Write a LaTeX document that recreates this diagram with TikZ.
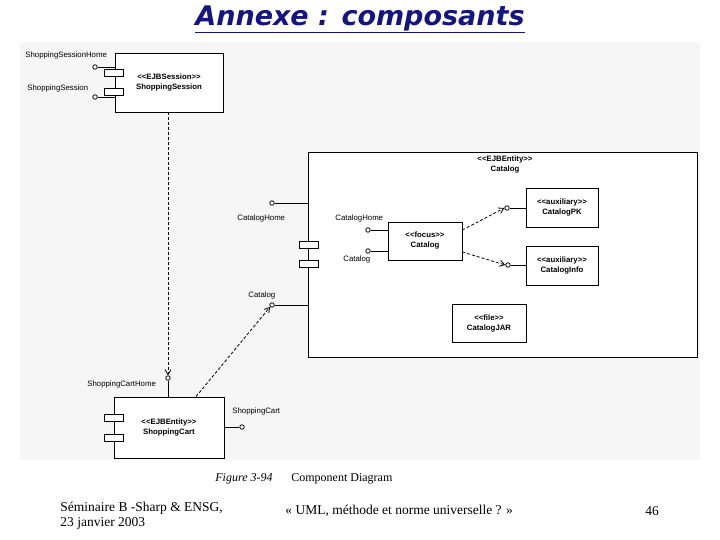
\documentclass[tikz,border=0pt]{standalone}
\usepackage{fontspec}
\setmainfont{Liberation Serif}
\setsansfont{Liberation Sans}
\newfontfamily\titlefont{DejaVu Sans}
\usetikzlibrary{arrows.meta,positioning}
\definecolor{titleblue}{RGB}{20,20,130}
\definecolor{canvas}{RGB}{246,246,246}
\newcommand{\stereo}[1]{<{}<#1>{}>}

\begin{document}
\begin{tikzpicture}[
  x=1pt, y=-1pt, line width=0.8pt,
  font=\sffamily\fontsize{7.8}{10}\selectfont,
  comp/.style={draw, fill=white, align=center, inner sep=0pt,
               font=\sffamily\bfseries\fontsize{7.8}{10}\selectfont},
  tab/.style={draw, fill=white, minimum width=19pt, minimum height=7pt, inner sep=0pt},
  lolli/.style={draw, circle, fill=white, minimum size=4.5pt, inner sep=0pt},
  iface/.style={inner sep=1pt},
  dep/.style={dash pattern=on 3pt off 2pt, -{Straight Barb[length=5pt,width=6pt]}},
  foot/.style={font=\rmfamily\fontsize{13.5}{15}\selectfont, align=left, inner sep=0pt}
]
\useasboundingbox (0,0) rectangle (720,540);
\fill[canvas] (20,42) rectangle (700,460);
\node[font=\titlefont\bfseries\itshape\fontsize{27}{30}\selectfont, text=titleblue]
  (title) at (360,19) {\underline{Annexe : composants}};

\node[comp, minimum width=108pt, minimum height=59pt] (sess) at (169,82.5)
  {\stereo{EJBSession}\\ShoppingSession};
\node[tab] (sessT1) at (113.5,72.5) {};
\node[tab] (sessT2) at (113.5,91.5) {};
\node[lolli] (sshI) at (95,67) {};
\node[lolli] (ssI) at (95,97) {};
\draw (sshI) -- (sshI -| sess.west);
\draw (ssI) -- (ssI -| sess.west);
\node[iface, anchor=west] (sshL) at (24,55) {ShoppingSessionHome};
\node[iface, anchor=west] (ssL) at (26,88) {ShoppingSession};

\node[comp, minimum width=110pt, minimum height=61pt] (cart) at (169,427.5)
  {\stereo{EJBEntity}\\ShoppingCart};
\node[tab] (cartT1) at (113.5,418) {};
\node[tab] (cartT2) at (113.5,438) {};
\node[lolli] (chI) at (168,378) {};
\node[lolli] (scI) at (242,427) {};
\draw (chI) -- (chI |- cart.north);
\draw (scI) -- (scI -| cart.east);
\node[iface, anchor=west] (chL) at (86,384) {ShoppingCartHome};
\node[iface, anchor=west] (scL) at (231,411) {ShoppingCart};

\node[draw, fill=white, minimum width=389pt, minimum height=205pt] (catalog) at (502.5,254.5) {};
\node[comp, draw=none, fill=none] (catL) at (505,165) {\stereo{EJBEntity}\\Catalog};
\node[tab] (catT1) at (308.5,245) {};
\node[tab] (catT2) at (308.5,264) {};
\node[lolli] (catHomeI) at (272,203) {};
\node[lolli] (catOutI) at (272,305) {};
\draw (catHomeI) -- (catHomeI -| catalog.west);
\draw (catOutI) -- (catOutI -| catalog.west);
\node[iface, anchor=west] (catHomeL) at (236,218) {CatalogHome};
\node[iface, anchor=west] (catOutL) at (247,295) {Catalog};

\node[comp, minimum width=74pt, minimum height=38pt] (focus) at (425,241)
  {\stereo{focus}\\Catalog};
\node[lolli] (fhI) at (368,230) {};
\node[lolli] (fcI) at (368,251) {};
\draw (fhI) -- (fhI -| focus.west);
\draw (fcI) -- (fcI -| focus.west);
\node[iface, anchor=west] (fhL) at (334,218) {CatalogHome};
\node[iface, anchor=west] (fcL) at (342,259) {Catalog};

\node[comp, minimum width=72pt, minimum height=39pt] (pk) at (562,207.5)
  {\stereo{auxiliary}\\CatalogPK};
\node[comp, minimum width=72pt, minimum height=39pt] (info) at (562,265.5)
  {\stereo{auxiliary}\\CatalogInfo};
\node[comp, minimum width=74pt, minimum height=38pt] (jar) at (489,323)
  {\stereo{file}\\CatalogJAR};
\node[lolli] (pkI) at (507,208) {};
\node[lolli] (infoI) at (508,265) {};
\draw (pkI) -- (pkI -| pk.west);
\draw (infoI) -- (infoI -| info.west);

\draw[dep] (sess.south -| chI) -- (chI.north);
\draw[dep] ([xshift=27pt]cart.north) -- (catOutI.south west);
\draw[dep] ([yshift=11pt]focus.east) -- (pkI.west);
\draw[dep] ([yshift=-11pt]focus.east) -- (infoI.west);

\node[font=\rmfamily\itshape\fontsize{12}{14}\selectfont, anchor=west, inner sep=0pt]
  (capFig) at (215,479) {Figure 3-94};
\node[font=\rmfamily\fontsize{12}{14}\selectfont, anchor=west, inner sep=0pt]
  (capTxt) at (291,479) {Component Diagram};

\node[foot, anchor=west] (footL) at (60,516) {Séminaire B -Sharp \& ENSG,\\23 janvier 2003};
\node[foot, anchor=west] (footC) at (285,511) {« UML, méthode et norme universelle ? »};
\node[foot, anchor=west] (footR) at (645,511) {46};
\end{tikzpicture}
\end{document}
